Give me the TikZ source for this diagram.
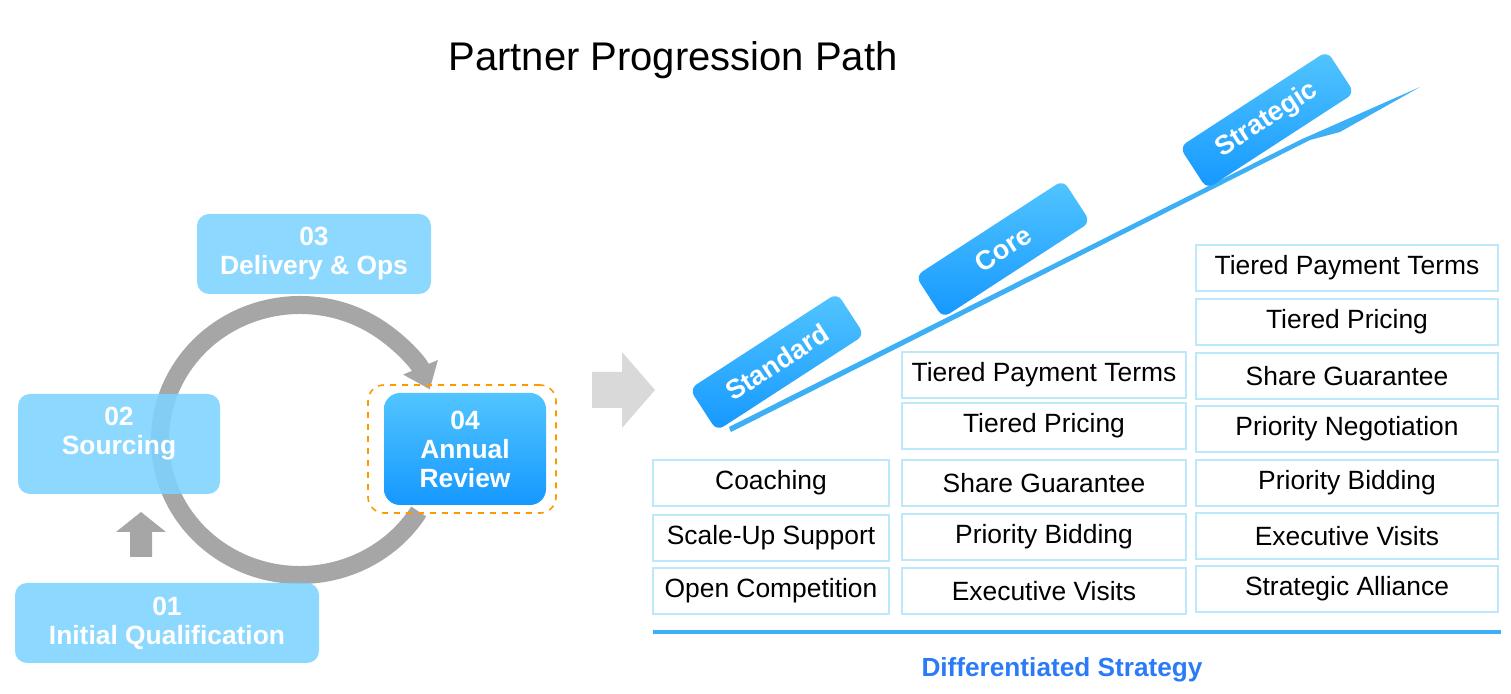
\documentclass[tikz,border=0pt]{standalone}
\usepackage{fontspec}
\setmainfont{Liberation Sans}
\usetikzlibrary{arrows.meta}
\definecolor{lb}{HTML}{7DD3FF}
\definecolor{gtop}{HTML}{52C5FF}
\definecolor{gbot}{HTML}{1598FF}
\definecolor{cellb}{HTML}{BDE7FB}
\definecolor{line}{HTML}{3DB0F5}
\begin{document}
\begin{tikzpicture}[x=0.5pt,y=-0.5pt,
 stepbox/.style={fill=lb,fill opacity=0.88,text opacity=1,rounded corners=6pt,inner sep=0pt},
 steptext/.style={text=white,font=\bfseries\fontsize{13.2}{14.5}\selectfont,align=center,inner sep=0pt},
 tier/.style={rounded corners=4pt,top color=gtop,bottom color=gbot,text=white,font=\bfseries\fontsize{13.5}{15}\selectfont,minimum width=88pt,minimum height=25pt,rotate=33},
 cell/.style={draw=cellb,line width=0.8pt,fill=white,font=\fontsize{13.2}{15}\selectfont,inner sep=0pt}]
\useasboundingbox (0,0) rectangle (1511,694);
\node[font=\fontsize{20}{24}\selectfont] (title) at (673,60) {Partner Progression Path};
% cycle arrow
\draw[line width=9pt,color=black!35,-{Triangle[length=12pt,width=18pt]}] (300,440) ++(32:140 and 135) coordinate (cs) arc[start angle=32,end angle=338,x radius=140,y radius=135];
% boxes
\node[stepbox,minimum width=117pt,minimum height=40pt] (s3) at (314,254) {};
\node[steptext] (s3t) at (s3) {03\\Delivery \& Ops};
\node[stepbox,minimum width=101pt,minimum height=50pt] (s2) at (119,444) {};
\node[steptext] (s2t) at (119,434) {02\\Sourcing};
\node[stepbox,minimum width=152pt,minimum height=40pt] (s1) at (167,623) {};
\node[steptext] (s1t) at (s1) {01\\Initial Qualification};
\node[draw=orange!80!yellow,dashed,line width=0.8pt,rounded corners=8pt,minimum width=94pt,minimum height=64pt] (hl) at (462,449) {};
\node[rounded corners=8pt,top color=gtop,bottom color=gbot,minimum width=81pt,minimum height=56pt] (s4) at (465,449) {};
\node[steptext] (s4t) at (s4) {04\\Annual\\Review};
\fill[black!35] (130,557) -- (130,532) -- (116,532) -- (141,512) -- (166,532) -- (152,532) -- (152,557) -- cycle;
\fill[black!15] (592,372) -- (622,372) -- (622,352) -- (655,390) -- (622,428) -- (622,408) -- (592,408) -- cycle;
% slope
\coordinate (l0) at (730,430);
\coordinate (l1) at (1420,87);
\fill[line] (l0) -- (729,427) -- (1300,140) -- (1420,87) -- (1340,132) -- (1310,140) -- (731,432) -- cycle;
\node[tier] (t1) at (777,362) {Standard};
\node[tier] (t2) at (1003,249) {Core};
\node[tier] (t3) at (1267,120) {Strategic};
% cells
\foreach \n/\t/\y in {a1/Coaching/483,a2/Scale-Up Support/538,a3/Open Competition/591}
  \node[cell,minimum width=118pt,minimum height=23pt] (\n) at (771,\y) {\t};
\foreach \n/\t/\y in {b1/Tiered Payment Terms/375,b2/Tiered Pricing/426,b3/Share Guarantee/483,b4/Priority Bidding/537,b5/Executive Visits/591}
  \node[cell,minimum width=142pt,minimum height=23pt] (\n) at (1044,\y) {\t};
\foreach \n/\t/\y in {c1/Tiered Payment Terms/268,c2/Tiered Pricing/322,c3/Share Guarantee/376,c4/Priority Negotiation/429,c5/Priority Bidding/483,c6/Executive Visits/536,c7/Strategic Alliance/589}
  \node[cell,minimum width=151pt,minimum height=23pt] (\n) at (1347,\y) {\t};
\coordinate (b0) at (653,632);
\coordinate (b9) at (1501,632);
\draw[line,line width=2pt] (b0) -- (b9);
\node[font=\bfseries\fontsize{13.1}{15}\selectfont,text=line!70!blue] (ds) at (1062,670) {Differentiated Strategy};
\end{tikzpicture}
\end{document}
